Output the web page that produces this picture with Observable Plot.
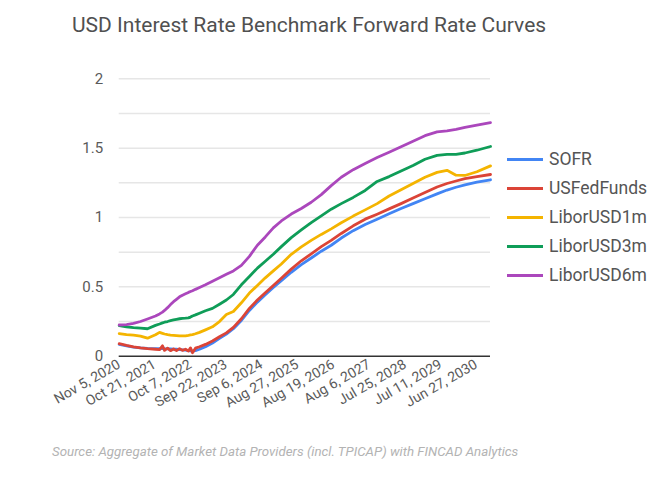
<!DOCTYPE html>
<html>
<head>
<meta charset="utf-8">
<script src="https://cdn.jsdelivr.net/npm/d3@7"></script>
<script src="https://cdn.jsdelivr.net/npm/@observablehq/plot@0.6"></script>
<style>
  html, body { margin: 0; padding: 0; background: #fff; }
  #wrap { position: relative; width: 666px; height: 485px; font-family: Roboto, sans-serif; overflow: hidden; }
  #title { position: absolute; left: 72px; top: 15px; font-size: 21px; line-height: 21px; color: #505050; white-space: nowrap; }
  #chart { position: absolute; left: 0; top: 50px; }
  #caption { position: absolute; left: 52px; top: 445px; font-size: 13.3px; line-height: 13px; font-style: italic; color: #b3b3b3; white-space: nowrap; }
  .sw { position: absolute; left: 507px; width: 36px; height: 3px; }
  .lt { position: absolute; left: 549px; font-size: 17.5px; line-height: 17.5px; color: #555; white-space: nowrap; }
</style>
</head>
<body>
<div id="wrap">
  <div id="title">USD Interest Rate Benchmark Forward Rate Curves</div>
  <div id="chart"></div>
  <div id="legend"></div>
  <div id="caption">Source: Aggregate of Market Data Providers (incl. TPICAP) with FINCAD Analytics</div>
</div>
<script>
const dates = [
  "2020-11-05","2021-01-16","2021-03-26","2021-06-03","2021-08-11","2021-10-29","2021-12-08","2022-01-06",
  "2022-01-26","2022-02-25","2022-03-26","2022-04-25","2022-05-24","2022-06-23","2022-07-22","2022-08-21",
  "2022-09-19","2022-10-09","2022-10-29","2022-11-27","2023-01-06","2023-03-06","2023-05-14","2023-07-22",
  "2023-09-28","2023-12-06","2024-02-23","2024-05-12","2024-07-30","2024-10-16","2025-01-03","2025-03-23",
  "2025-06-29","2025-10-06","2026-01-12","2026-04-21","2026-07-28","2026-11-04","2027-03-02","2027-06-28",
  "2027-10-24","2028-02-19","2028-06-16","2028-10-12","2029-02-07","2029-06-06","2029-09-12","2029-12-10",
  "2030-03-08","2030-07-04","2030-11-15"
];
const sofr = [
  0.085,0.075,0.066,0.060,0.056,0.055,0.055,0.055,
  0.054,0.053,0.052,0.051,0.050,0.048,0.046,0.044,
  0.040,0.038,0.037,0.040,0.050,0.068,0.095,0.128,
  0.160,0.198,0.258,0.330,0.390,0.443,0.495,0.545,
  0.605,0.660,0.708,0.757,0.800,0.852,0.905,0.950,
  0.988,1.027,1.065,1.100,1.135,1.170,1.198,1.218,
  1.235,1.255,1.272
];
const usFedFunds = [
  0.090,0.078,0.068,0.060,0.054,0.050,0.047,0.075,
  0.042,0.058,0.040,0.052,0.040,0.055,0.042,0.050,
  0.038,0.060,0.025,0.058,0.068,0.085,0.110,0.140,
  0.168,0.208,0.270,0.345,0.405,0.458,0.510,0.562,
  0.628,0.688,0.738,0.790,0.835,0.885,0.940,0.988,
  1.024,1.062,1.100,1.140,1.180,1.220,1.245,1.263,
  1.280,1.295,1.310
];
const liborUSD1m = [
  0.163,0.155,0.152,0.145,0.130,0.155,0.172,0.165,
  0.160,0.155,0.152,0.150,0.148,0.146,0.146,0.147,
  0.150,0.153,0.156,0.162,0.172,0.190,0.212,0.250,
  0.300,0.322,0.385,0.455,0.510,0.565,0.615,0.665,
  0.735,0.788,0.835,0.878,0.918,0.962,1.010,1.055,
  1.100,1.155,1.200,1.245,1.290,1.325,1.340,1.305,
  1.303,1.330,1.372
];
const liborUSD3m = [
  0.220,0.212,0.206,0.202,0.198,0.222,0.232,0.240,
  0.245,0.250,0.256,0.262,0.266,0.270,0.273,0.274,
  0.276,0.282,0.290,0.298,0.310,0.328,0.345,0.375,
  0.405,0.445,0.515,0.575,0.635,0.685,0.735,0.790,
  0.855,0.910,0.963,1.012,1.060,1.100,1.145,1.195,
  1.260,1.295,1.335,1.375,1.420,1.448,1.455,1.455,
  1.465,1.485,1.512
];
const liborUSD6m = [
  0.225,0.228,0.236,0.250,0.268,0.290,0.305,0.318,
  0.330,0.350,0.372,0.393,0.410,0.428,0.440,0.450,
  0.460,0.466,0.472,0.482,0.495,0.515,0.540,0.565,
  0.590,0.615,0.655,0.720,0.800,0.860,0.925,0.975,
  1.025,1.065,1.110,1.165,1.230,1.290,1.345,1.390,
  1.432,1.470,1.510,1.550,1.590,1.617,1.625,1.635,
  1.650,1.666,1.684
];
const seriesNames = ["SOFR", "USFedFunds", "LiborUSD1m", "LiborUSD3m", "LiborUSD6m"];
const seriesColors = ["#4285f4", "#db4437", "#f4b400", "#0f9d58", "#ab47bc"];
const xTickLabels = ["2020-11-05","2021-10-21","2022-10-07","2023-09-22","2024-09-06","2025-08-27",
                     "2026-08-19","2027-08-06","2028-07-25","2029-07-11","2030-06-27"];
const yTicks = [0, 0.5, 1, 1.5, 2];
const gridValues = [0.25, 0.5, 0.75, 1, 1.25, 1.5, 1.75, 2];

const seriesValues = [sofr, usFedFunds, liborUSD1m, liborUSD3m, liborUSD6m];
const data = [];
seriesNames.forEach((s, j) => {
  dates.forEach((d, i) => data.push({date: new Date(d), series: s, value: seriesValues[j][i]}));
});
const fmt = d3.utcFormat("%b %-d, %Y");

const chart = Plot.plot({
  width: 666,
  height: 380,
  marginLeft: 118.7,
  marginRight: 176,
  marginTop: 28.3,
  marginBottom: 74.3,
  style: {fontFamily: "Roboto, sans-serif", color: "#5a5a5a", background: "transparent"},
  x: {type: "utc", domain: [new Date(dates[0]), new Date(dates[dates.length - 1])]},
  y: {domain: [0, 2]},
  color: {domain: seriesNames, range: seriesColors},
  marks: [
    Plot.ruleY(gridValues, {stroke: "#e6e6e6", strokeWidth: 1.5}),
    Plot.ruleY([0], {stroke: "#333", strokeWidth: 1.5}),
    Plot.axisY({ticks: yTicks, tickSize: 0, tickPadding: 16, fontSize: 15, tickFormat: d => String(d), label: null}),
    Plot.axisX({ticks: xTickLabels.map(d => new Date(d)), tickSize: 0, tickPadding: 7, tickRotate: -30,
                tickFormat: fmt, fontSize: 14, label: null}),
    Plot.lineY(data, {x: "date", y: "value", z: "series", stroke: "series", strokeWidth: 2.8,
                      strokeLinejoin: "round", strokeLinecap: "round"})
  ]
});
document.getElementById("chart").appendChild(chart);

const legendCenters = [159.3, 188.3, 217.3, 246, 275];
const legend = document.getElementById("legend");
seriesNames.forEach((s, i) => {
  const sw = document.createElement("div");
  sw.className = "sw";
  sw.style.top = (legendCenters[i] - 1.5) + "px";
  sw.style.background = seriesColors[i];
  legend.appendChild(sw);
  const t = document.createElement("div");
  t.className = "lt";
  t.style.top = (legendCenters[i] + 6.7 - 14.7) + "px";
  t.textContent = s;
  legend.appendChild(t);
});
</script>
</body>
</html>
